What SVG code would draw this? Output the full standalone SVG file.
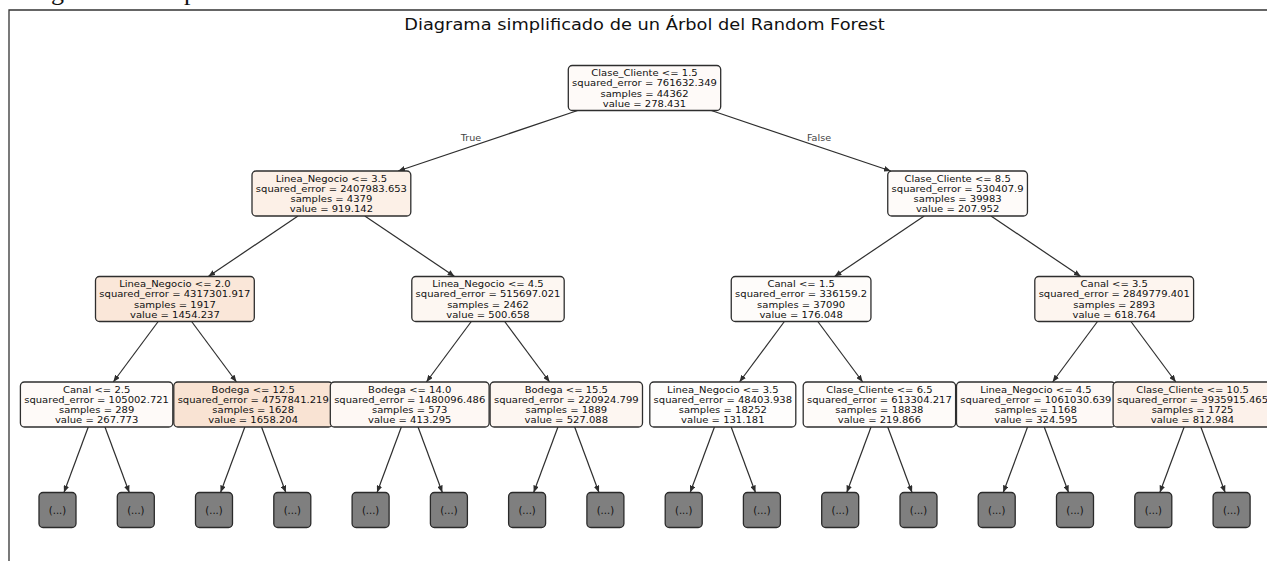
<svg xmlns="http://www.w3.org/2000/svg" width="1267" height="561" viewBox="0 0 1267 561">
<style>
.t{font-family:"DejaVu Sans","Liberation Sans",sans-serif;font-size:10px;text-anchor:middle;fill:#111}
.nb{stroke:#2e2e2e;stroke-width:1.3}
.lf{fill:#7f7f7f;stroke:#2a2a2a;stroke-width:1.3}
.e{stroke:#2e2e2e;stroke-width:1.2;fill:none;marker-end:url(#ah)}
.frag{font-family:"Liberation Serif",serif;font-size:26px;fill:#111}
</style>
<defs>
<marker id="ah" viewBox="0 0 10 8" refX="10" refY="4" markerWidth="7" markerHeight="5.6" markerUnits="userSpaceOnUse" orient="auto"><path d="M0,0 L10,4 L0,8 z" fill="#2e2e2e"/></marker>
</defs>
<rect width="1267" height="561" fill="#ffffff"/>
<text class="frag" x="51" y="-0.5">g</text>
<text class="frag" x="184" y="-0.5">p</text>
<path d="M9,561 V10 H1267" fill="none" stroke="#333" stroke-width="1.3"/>
<text transform="translate(644.5,30) scale(1,0.9)" x="0" y="0" style="font-family:'DejaVu Sans','Liberation Sans',sans-serif;font-size:17.8px;text-anchor:middle;fill:#111">Diagrama simplificado de un Árbol del Random Forest</text>

<g id="connectors">
<path class="e" d="M577.7,110.5 L398.2,171"/>
<path class="e" d="M711.3,110.5 L890.8,171"/>
<path class="e" d="M298,216 L208.3,276.5"/>
<path class="e" d="M364.8,216 L454.6,276.5"/>
<path class="e" d="M924.2,216 L834.5,276.5"/>
<path class="e" d="M991,216 L1080.8,276.5"/>
<path class="e" d="M158.2,321.5 L113.3,382"/>
<path class="e" d="M191.6,321.5 L236.5,382"/>
<path class="e" d="M471.3,321.5 L426.4,382"/>
<path class="e" d="M504.7,321.5 L549.6,382"/>
<path class="e" d="M784.4,321.5 L739.5,382"/>
<path class="e" d="M817.8,321.5 L862.7,382"/>
<path class="e" d="M1097.5,321.5 L1052.6,382"/>
<path class="e" d="M1130.9,321.5 L1175.8,382"/>
<path class="e" d="M88.25,427 L63.95,492.5"/>
<path class="e" d="M104.95,427 L129.25,492.5"/>
<path class="e" d="M244.85,427 L220.55,492.5"/>
<path class="e" d="M261.55,427 L285.85,492.5"/>
<path class="e" d="M401.35,427 L377.05,492.5"/>
<path class="e" d="M418.05,427 L442.35,492.5"/>
<path class="e" d="M557.95,427 L533.65,492.5"/>
<path class="e" d="M574.65,427 L598.95,492.5"/>
<path class="e" d="M714.45,427 L690.15,492.5"/>
<path class="e" d="M731.15,427 L755.45,492.5"/>
<path class="e" d="M871.05,427 L846.75,492.5"/>
<path class="e" d="M887.75,427 L912.05,492.5"/>
<path class="e" d="M1027.55,427 L1003.25,492.5"/>
<path class="e" d="M1044.25,427 L1068.55,492.5"/>
<path class="e" d="M1184.15,427 L1159.85,492.5"/>
<path class="e" d="M1200.85,427 L1225.15,492.5"/>
<text transform="translate(471,141) scale(1,0.9)" x="0" y="0" style="font-family:'DejaVu Sans',sans-serif;font-size:9.6px;text-anchor:middle;fill:#444">True</text>
<text transform="translate(819,141) scale(1,0.9)" x="0" y="0" style="font-family:'DejaVu Sans',sans-serif;font-size:9.6px;text-anchor:middle;fill:#444">False</text>
</g>

<g id="n0"><rect class="nb" x="568.3" y="65.5" width="152.4" height="45" rx="4" fill="#fefaf8"/>
<text class="t" transform="translate(644.5,88) scale(1,0.95)"><tspan x="0" y="-12.5">Clase_Cliente &lt;= 1.5</tspan><tspan x="0" y="-1.7">squared_error = 761632.349</tspan><tspan x="0" y="9.3">samples = 44362</tspan><tspan x="0" y="20">value = 278.431</tspan></text></g>

<g id="n1"><rect class="nb" x="252" y="171" width="158.8" height="45" rx="4" fill="#fcf0e7"/>
<text class="t" transform="translate(331.4,193.5) scale(1,0.95)"><tspan x="0" y="-12.5">Linea_Negocio &lt;= 3.5</tspan><tspan x="0" y="-1.7">squared_error = 2407983.653</tspan><tspan x="0" y="9.3">samples = 4379</tspan><tspan x="0" y="20">value = 919.142</tspan></text></g>

<g id="n2"><rect class="nb" x="887.75" y="171" width="139.7" height="45" rx="4" fill="#fefbf9"/>
<text class="t" transform="translate(957.6,193.5) scale(1,0.95)"><tspan x="0" y="-12.5">Clase_Cliente &lt;= 8.5</tspan><tspan x="0" y="-1.7">squared_error = 530407.9</tspan><tspan x="0" y="9.3">samples = 39983</tspan><tspan x="0" y="20">value = 207.952</tspan></text></g>

<g id="n3"><rect class="nb" x="95.5" y="276.5" width="158.8" height="45" rx="4" fill="#fae7d9"/>
<text class="t" transform="translate(174.9,299) scale(1,0.95)"><tspan x="0" y="-12.5">Linea_Negocio &lt;= 2.0</tspan><tspan x="0" y="-1.7">squared_error = 4317301.917</tspan><tspan x="0" y="9.3">samples = 1917</tspan><tspan x="0" y="20">value = 1454.237</tspan></text></g>

<g id="n4"><rect class="nb" x="411.8" y="276.5" width="152.4" height="45" rx="4" fill="#fdf7f2"/>
<text class="t" transform="translate(488,299) scale(1,0.95)"><tspan x="0" y="-12.5">Linea_Negocio &lt;= 4.5</tspan><tspan x="0" y="-1.7">squared_error = 515697.021</tspan><tspan x="0" y="9.3">samples = 2462</tspan><tspan x="0" y="20">value = 500.658</tspan></text></g>

<g id="n5"><rect class="nb" x="731.25" y="276.5" width="139.7" height="45" rx="4" fill="#fefcfa"/>
<text class="t" transform="translate(801.1,299) scale(1,0.95)"><tspan x="0" y="-12.5">Canal &lt;= 1.5</tspan><tspan x="0" y="-1.7">squared_error = 336159.2</tspan><tspan x="0" y="9.3">samples = 37090</tspan><tspan x="0" y="20">value = 176.048</tspan></text></g>

<g id="n6"><rect class="nb" x="1034.8" y="276.5" width="158.8" height="45" rx="4" fill="#fdf5ef"/>
<text class="t" transform="translate(1114.2,299) scale(1,0.95)"><tspan x="0" y="-12.5">Canal &lt;= 3.5</tspan><tspan x="0" y="-1.7">squared_error = 2849779.401</tspan><tspan x="0" y="9.3">samples = 2893</tspan><tspan x="0" y="20">value = 618.764</tspan></text></g>

<g id="n7"><rect class="nb" x="20.4" y="382" width="152.4" height="45" rx="4" fill="#fefaf8"/>
<text class="t" transform="translate(96.6,404.5) scale(1,0.95)"><tspan x="0" y="-12.5">Canal &lt;= 2.5</tspan><tspan x="0" y="-1.7">squared_error = 105002.721</tspan><tspan x="0" y="9.3">samples = 289</tspan><tspan x="0" y="20">value = 267.773</tspan></text></g>

<g id="n8"><rect class="nb" x="173.8" y="382" width="158.8" height="45" rx="4" fill="#f9e3d3"/>
<text class="t" transform="translate(253.2,404.5) scale(1,0.95)"><tspan x="0" y="-12.5">Bodega &lt;= 12.5</tspan><tspan x="0" y="-1.7">squared_error = 4757841.219</tspan><tspan x="0" y="9.3">samples = 1628</tspan><tspan x="0" y="20">value = 1658.204</tspan></text></g>

<g id="n9"><rect class="nb" x="330.3" y="382" width="158.8" height="45" rx="4" fill="#fef8f4"/>
<text class="t" transform="translate(409.7,404.5) scale(1,0.95)"><tspan x="0" y="-12.5">Bodega &lt;= 14.0</tspan><tspan x="0" y="-1.7">squared_error = 1480096.486</tspan><tspan x="0" y="9.3">samples = 573</tspan><tspan x="0" y="20">value = 413.295</tspan></text></g>

<g id="n10"><rect class="nb" x="490.1" y="382" width="152.4" height="45" rx="4" fill="#fdf6f1"/>
<text class="t" transform="translate(566.3,404.5) scale(1,0.95)"><tspan x="0" y="-12.5">Bodega &lt;= 15.5</tspan><tspan x="0" y="-1.7">squared_error = 220924.799</tspan><tspan x="0" y="9.3">samples = 1889</tspan><tspan x="0" y="20">value = 527.088</tspan></text></g>

<g id="n11"><rect class="nb" x="649.8" y="382" width="146" height="45" rx="4" fill="#fefdfc"/>
<text class="t" transform="translate(722.8,404.5) scale(1,0.95)"><tspan x="0" y="-12.5">Linea_Negocio &lt;= 3.5</tspan><tspan x="0" y="-1.7">squared_error = 48403.938</tspan><tspan x="0" y="9.3">samples = 18252</tspan><tspan x="0" y="20">value = 131.181</tspan></text></g>

<g id="n12"><rect class="nb" x="803.2" y="382" width="152.4" height="45" rx="4" fill="#fefbf9"/>
<text class="t" transform="translate(879.4,404.5) scale(1,0.95)"><tspan x="0" y="-12.5">Clase_Cliente &lt;= 6.5</tspan><tspan x="0" y="-1.7">squared_error = 613304.217</tspan><tspan x="0" y="9.3">samples = 18838</tspan><tspan x="0" y="20">value = 219.866</tspan></text></g>

<g id="n13"><rect class="nb" x="956.5" y="382" width="158.8" height="45" rx="4" fill="#fef9f6"/>
<text class="t" transform="translate(1035.9,404.5) scale(1,0.95)"><tspan x="0" y="-12.5">Linea_Negocio &lt;= 4.5</tspan><tspan x="0" y="-1.7">squared_error = 1061030.639</tspan><tspan x="0" y="9.3">samples = 1168</tspan><tspan x="0" y="20">value = 324.595</tspan></text></g>

<g id="n14"><rect class="nb" x="1113.1" y="382" width="158.8" height="45" rx="4" fill="#fcf1ea"/>
<text class="t" transform="translate(1192.5,404.5) scale(1,0.95)"><tspan x="0" y="-12.5">Clase_Cliente &lt;= 10.5</tspan><tspan x="0" y="-1.7">squared_error = 3935915.465</tspan><tspan x="0" y="9.3">samples = 1725</tspan><tspan x="0" y="20">value = 812.984</tspan></text></g>

<g id="leaf1"><rect class="lf" x="39" y="492.5" width="37" height="35" rx="4"/><text class="t" x="57.5" y="513.5">(...)</text></g>
<g id="leaf2"><rect class="lf" x="117.3" y="492.5" width="37" height="35" rx="4"/><text class="t" x="135.8" y="513.5">(...)</text></g>
<g id="leaf3"><rect class="lf" x="195.5" y="492.5" width="37" height="35" rx="4"/><text class="t" x="214" y="513.5">(...)</text></g>
<g id="leaf4"><rect class="lf" x="273.8" y="492.5" width="37" height="35" rx="4"/><text class="t" x="292.3" y="513.5">(...)</text></g>
<g id="leaf5"><rect class="lf" x="352.1" y="492.5" width="37" height="35" rx="4"/><text class="t" x="370.6" y="513.5">(...)</text></g>
<g id="leaf6"><rect class="lf" x="430.4" y="492.5" width="37" height="35" rx="4"/><text class="t" x="448.9" y="513.5">(...)</text></g>
<g id="leaf7"><rect class="lf" x="508.6" y="492.5" width="37" height="35" rx="4"/><text class="t" x="527.1" y="513.5">(...)</text></g>
<g id="leaf8"><rect class="lf" x="586.9" y="492.5" width="37" height="35" rx="4"/><text class="t" x="605.4" y="513.5">(...)</text></g>
<g id="leaf9"><rect class="lf" x="665.2" y="492.5" width="37" height="35" rx="4"/><text class="t" x="683.7" y="513.5">(...)</text></g>
<g id="leaf10"><rect class="lf" x="743.4" y="492.5" width="37" height="35" rx="4"/><text class="t" x="761.9" y="513.5">(...)</text></g>
<g id="leaf11"><rect class="lf" x="821.7" y="492.5" width="37" height="35" rx="4"/><text class="t" x="840.2" y="513.5">(...)</text></g>
<g id="leaf12"><rect class="lf" x="900" y="492.5" width="37" height="35" rx="4"/><text class="t" x="918.5" y="513.5">(...)</text></g>
<g id="leaf13"><rect class="lf" x="978.2" y="492.5" width="37" height="35" rx="4"/><text class="t" x="996.7" y="513.5">(...)</text></g>
<g id="leaf14"><rect class="lf" x="1056.5" y="492.5" width="37" height="35" rx="4"/><text class="t" x="1075" y="513.5">(...)</text></g>
<g id="leaf15"><rect class="lf" x="1134.8" y="492.5" width="37" height="35" rx="4"/><text class="t" x="1153.3" y="513.5">(...)</text></g>
<g id="leaf16"><rect class="lf" x="1213.1" y="492.5" width="37" height="35" rx="4"/><text class="t" x="1231.6" y="513.5">(...)</text></g>
</svg>
